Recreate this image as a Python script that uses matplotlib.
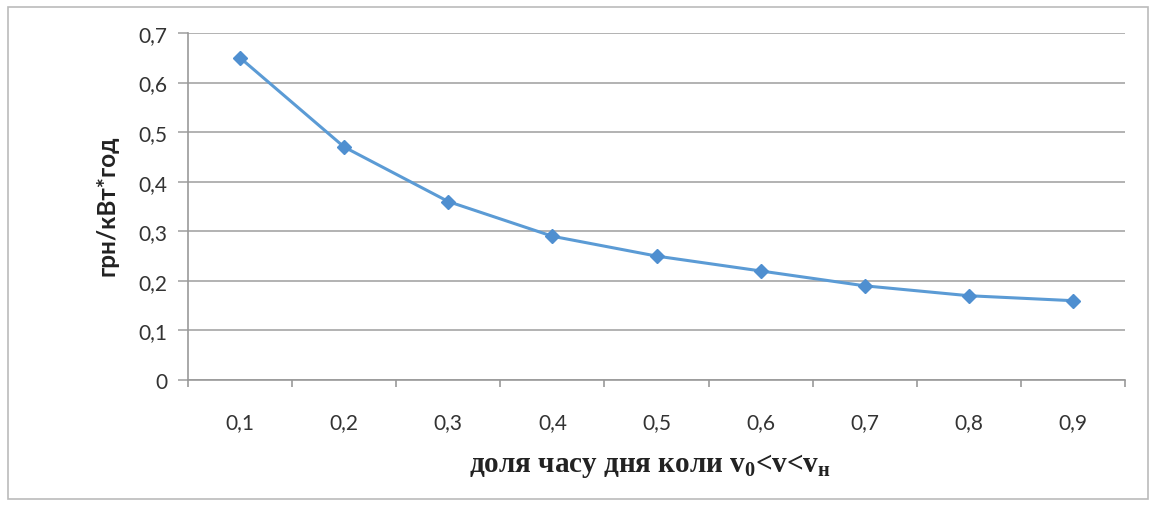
import matplotlib
matplotlib.use("Agg")
import matplotlib.pyplot as plt
from matplotlib.patches import Rectangle

categories = ["0,1", "0,2", "0,3", "0,4", "0,5", "0,6", "0,7", "0,8", "0,9"]
values = [0.65, 0.47, 0.36, 0.29, 0.25, 0.22, 0.19, 0.17, 0.16]
yticks = [0, 0.1, 0.2, 0.3, 0.4, 0.5, 0.6, 0.7]
ytick_labels = ["0", "0,1", "0,2", "0,3", "0,4", "0,5", "0,6", "0,7"]

plt.rcParams['mathtext.fontset'] = 'custom'
plt.rcParams['mathtext.rm'] = 'Liberation Serif:bold'
plt.rcParams['mathtext.it'] = 'Liberation Serif:bold'
plt.rcParams['mathtext.bf'] = 'Liberation Serif:bold'

fig = plt.figure(figsize=(11.54, 5.06), dpi=100)
fig.patches.append(Rectangle((8/1154, 1-500/506), 1140/1154, 492/506, transform=fig.transFigure,
                             fill=False, edgecolor='#BBBBBB', linewidth=1.2))

ax = fig.add_axes([188/1154, 1-381/506, (1125-188)/1154, (381-34)/506])
x = list(range(len(categories)))
ax.plot(x, values, color='#5B9BD5', linewidth=2.2, marker='D', markersize=7,
        markerfacecolor='#4F8FD0', markeredgecolor='#4F8FD0', zorder=3)

ax.set_xlim(-0.5, len(categories) - 0.5)
ax.set_ylim(0, 0.7)
ax.set_yticks(yticks)
ax.set_yticklabels(ytick_labels, fontfamily='Lato', fontsize=15, color='#333333')
ax.yaxis.grid(True, color='#A6A6A6', linewidth=1.2)
ax.set_axisbelow(True)

ax.set_xticks([i - 0.5 for i in range(len(categories) + 1)])
ax.set_xticklabels([])
ax.set_xticks(x, minor=True)
ax.set_xticklabels(categories, minor=True, fontfamily='Lato', fontsize=15, color='#333333')
ax.tick_params(axis='x', which='major', length=5, color='#999999', width=1.2, direction='out')
ax.tick_params(axis='x', which='minor', length=0, pad=23)
ax.tick_params(axis='y', length=7, color='#A6A6A6', width=1.2, pad=8)

for s in ['top', 'right']:
    ax.spines[s].set_visible(False)
ax.spines['left'].set_color('#999999')
ax.spines['left'].set_linewidth(1.2)
ax.spines['bottom'].set_color('#999999')
ax.spines['bottom'].set_linewidth(1.2)

fig.text(107/1154, 1-206/506, "грн/кВт*год", rotation=90, ha='center', va='center',
         fontfamily='Lato', fontweight='bold', fontsize=17.5, color='#222222')
fig.text(650/1154, 1-466/506, r"доля часу дня коли $v_0$<$v$<$v_н$", ha='center', va='center',
         fontfamily='Liberation Serif', fontweight='bold', fontsize=21, color='#222222')

fig.savefig("out.png", dpi=100)
